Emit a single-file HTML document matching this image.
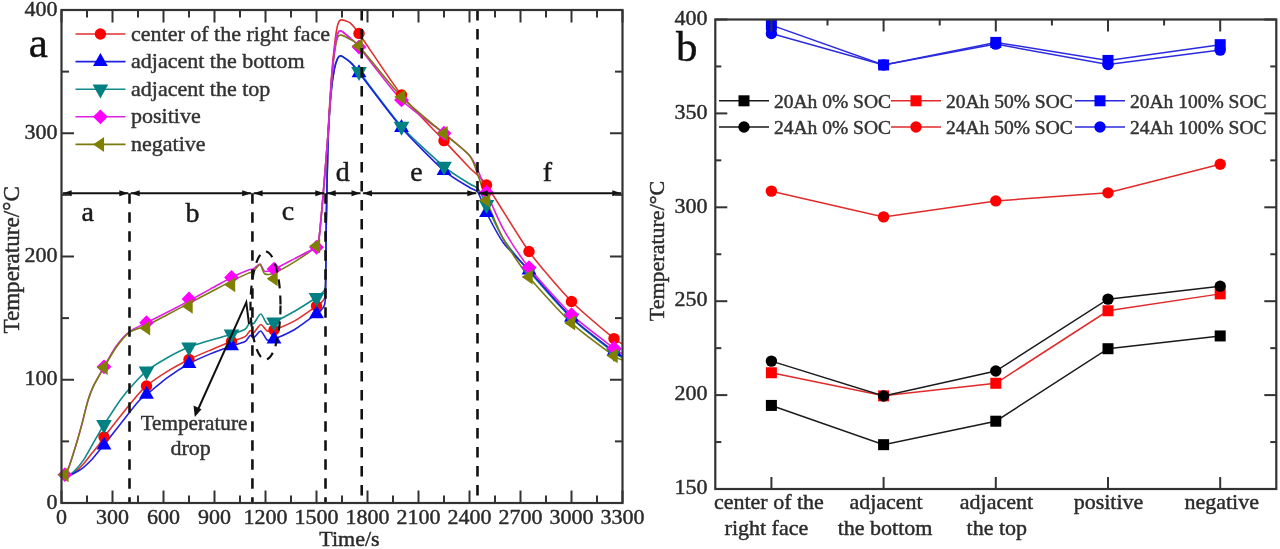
<!DOCTYPE html>
<html><head><meta charset="utf-8"><style>
html,body{margin:0;padding:0;background:#fff;width:1280px;height:549px;overflow:hidden;position:relative}
</style></head><body>
<svg width="1280" height="549" viewBox="0 0 1280 549" style="position:absolute;left:0;top:0;font-family:'Liberation Serif', serif;filter:blur(0.35px)">
<rect width="1280" height="549" fill="#fff"/>
<defs><clipPath id="clipL"><rect x="61.5" y="10" width="561" height="493"/></clipPath></defs>
<path clip-path="url(#clipL)" d="M66.26 475.52 C66.64 475.47 68.46 475.56 69.49 475.15 C70.52 474.73 73.45 473.26 75.1 471.94 C76.75 470.62 81.62 466.01 83.6 463.81 C85.58 461.61 90.3 455.34 92.1 453.08 C93.9 450.83 97.68 446.33 99.07 444.46 C100.46 442.59 99.99 442.25 104 437.06 C108.01 431.87 128.45 405.93 133.41 399.96 C138.37 394 142.49 389.28 146.5 385.91 C150.51 382.55 162.79 374.21 167.75 371.12 C172.71 368.03 184.04 361.86 189 359.41 C193.96 356.97 205.29 352.25 210.25 350.17 C215.21 348.09 227.43 343.12 231.5 341.54 C235.57 339.96 242.92 337.91 245.1 336.61 C247.28 335.32 249.21 330.88 250.2 330.45 C251.19 330.02 252.37 333.61 253.6 332.91 C254.83 332.22 259.15 324.75 260.74 324.53 C262.33 324.32 265.65 330.43 267.2 331.07 C268.75 331.7 270.75 331.18 274 329.96 C277.25 328.73 290.12 323.38 295.08 320.59 C300.04 317.8 313.41 308.2 316.5 306.05 C319.59 303.89 320.57 303.57 321.6 302.1 C322.63 300.64 324.82 300.95 325.34 293.48 C325.86 286 325.82 250.95 326.02 238.01 C326.22 225.07 326.78 195.06 327.04 182.55 C327.3 170.04 327.69 143.29 328.23 130.79 C328.77 118.28 330.86 85.68 331.63 75.32 C332.4 64.97 334.15 47.94 334.86 42.05 C335.57 36.15 337.02 27.38 337.75 24.79 C338.48 22.2 339.7 20.08 341.15 19.86 C342.6 19.64 348.08 21.36 350.16 22.94 C352.24 24.52 353.01 25.01 359 33.42 C364.99 41.83 391.58 82.53 401.5 95.04 C411.42 107.55 436.07 132.16 444 140.64 C451.93 149.13 464.54 162.58 469.5 167.76 C474.46 172.94 479.56 175.24 486.5 185.01 C493.44 194.79 519.08 237.98 529 251.57 C538.92 265.16 561.58 291.33 571.5 301.49 C581.42 311.64 608.05 333.62 614 338.58 C619.95 343.55 621.51 343.37 622.5 344.01" fill="none" stroke="#e03030" stroke-width="1.6" stroke-linejoin="round"/>
<path clip-path="url(#clipL)" d="M66.26 475.52 C66.64 475.44 68.46 475.5 69.49 474.9 C70.52 474.3 73.45 472.09 75.1 470.34 C76.75 468.58 81.62 462.81 83.6 459.86 C85.58 456.91 90.16 448.45 92.1 445.07 C94.04 441.69 98.87 433.27 100.26 430.9 C101.65 428.53 101.66 428.35 104 424.74 C106.34 421.13 116.95 404.64 120.32 399.96 C123.69 395.29 129.85 388.04 132.9 384.68 C135.95 381.32 142.43 374.29 146.5 371.12 C150.57 367.96 162.79 360.37 167.75 357.56 C172.71 354.76 184.04 349.1 189 347.09 C193.96 345.08 205.29 341.82 210.25 340.31 C215.21 338.8 227.43 335.44 231.5 334.15 C235.57 332.85 242.92 330.66 245.1 329.22 C247.28 327.78 249.21 322.47 250.2 321.82 C251.19 321.18 252.37 324.58 253.6 323.67 C254.83 322.77 259.15 314.01 260.74 314.06 C262.33 314.1 265.65 323.11 267.2 324.04 C268.75 324.98 270.75 323.59 274 322.07 C277.25 320.54 290.12 313.84 295.08 310.98 C300.04 308.12 313.41 299.58 316.5 297.54 C319.59 295.5 320.57 294.81 321.6 293.48 C322.63 292.14 324.82 292.55 325.34 286.08 C325.86 279.61 325.82 250.09 326.02 238.01 C326.22 225.93 326.76 194.77 327.04 182.55 C327.32 170.33 327.94 143.6 328.4 133.25 C328.86 122.9 330.26 101.29 330.95 93.81 C331.64 86.33 333.56 73.33 334.35 69.16 C335.14 64.99 336.96 59.58 337.75 58.07 C338.54 56.56 339.66 55.72 341.15 56.22 C342.64 56.72 348.42 60.58 350.5 62.38 C352.58 64.18 353.05 64.15 359 71.62 C364.95 79.1 391.58 115.4 401.5 126.47 C411.42 137.54 436.07 159.84 444 166.53 C451.93 173.21 465.53 181.19 469.5 183.78 C473.47 186.37 476.02 186.27 478 188.71 C479.98 191.16 483.52 198.84 486.5 204.74 C489.48 210.63 498.54 231.48 503.5 239.25 C508.46 247.01 521.07 262.09 529 271.29 C536.93 280.49 561.58 308.63 571.5 318.12 C581.42 327.62 608.05 348.03 614 352.63 C619.95 357.24 621.51 356.99 622.5 357.56" fill="none" stroke="#108a8a" stroke-width="1.6" stroke-linejoin="round"/>
<path clip-path="url(#clipL)" d="M66.26 475.52 C66.64 475.49 68.46 475.59 69.49 475.27 C70.52 474.95 73.45 473.74 75.1 472.8 C76.75 471.87 81.62 468.84 83.6 467.26 C85.58 465.68 90.3 461.17 92.1 459.25 C93.9 457.32 97.68 452.4 99.07 450.74 C100.46 449.09 99.6 450.62 104 445.07 C108.4 439.52 131.85 409.06 136.81 403.17 C141.77 397.27 142.89 397.56 146.5 394.54 C150.11 391.52 162.79 380.88 167.75 377.28 C172.71 373.69 184.04 366.46 189 363.73 C193.96 361 205.29 355.94 210.25 353.87 C215.21 351.8 227.43 347.42 231.5 345.98 C235.57 344.54 242.92 342.78 245.1 341.54 C247.28 340.31 249.21 335.81 250.2 335.38 C251.19 334.95 252.37 338.35 253.6 337.85 C254.83 337.34 259.15 330.82 260.74 331.07 C262.33 331.31 265.65 339.01 267.2 339.94 C268.75 340.87 270.75 340.33 274 339.08 C277.25 337.83 290.12 332.17 295.08 329.22 C300.04 326.27 313.41 316.11 316.5 313.81 C319.59 311.51 320.57 311.15 321.6 309.5 C322.63 307.84 324.82 307.98 325.34 299.64 C325.86 291.3 325.82 251.67 326.02 238.01 C326.22 224.35 326.76 194.77 327.04 182.55 C327.32 170.33 327.94 143.6 328.4 133.25 C328.86 122.9 330.26 101.29 330.95 93.81 C331.64 86.33 333.56 73.33 334.35 69.16 C335.14 64.99 336.96 59.62 337.75 58.07 C338.54 56.51 339.66 55.35 341.15 55.85 C342.64 56.35 348.42 60.4 350.5 62.38 C352.58 64.37 353.05 65.24 359 72.86 C364.95 80.48 391.58 116.29 401.5 127.7 C411.42 139.12 436.07 163.74 444 170.72 C451.93 177.69 465.53 184.95 469.5 187.48 C473.47 190.01 476.02 189.46 478 192.41 C479.98 195.36 483.52 206.85 486.5 212.75 C489.48 218.64 498.54 236.26 503.5 242.94 C508.46 249.63 521.07 261.36 529 270.06 C536.93 278.76 561.58 308.02 571.5 317.51 C581.42 327 608.05 346.87 614 351.4 C619.95 355.93 621.51 355.76 622.5 356.33" fill="none" stroke="#2020e0" stroke-width="1.6" stroke-linejoin="round"/>
<path clip-path="url(#clipL)" d="M64.9 474.65 C65.3 473.93 67.51 470.36 68.3 468.49 C69.09 466.62 70.7 461.72 71.7 458.63 C72.7 455.54 75.71 446.02 76.9 441.99 C78.09 437.97 80.63 428.91 81.9 424.12 C83.17 419.33 86.51 405.26 87.8 400.95 C89.09 396.64 91.68 390.01 92.95 387.14 C94.22 384.28 97.41 378.79 98.7 376.42 C99.99 374.05 101.99 370.3 104 366.81 C106.01 363.31 112.93 350.57 115.9 346.47 C118.88 342.37 125.93 334.46 129.5 331.68 C133.07 328.91 142.04 324.99 146.5 322.69 C150.96 320.38 162.79 314.51 167.75 311.96 C172.71 309.42 184.04 303.53 189 300.87 C193.96 298.21 205.29 291.89 210.25 289.16 C215.21 286.43 227.04 279.68 231.5 277.45 C235.96 275.22 245.92 271.06 248.5 270.06 C251.08 269.05 252.25 269.52 253.6 268.82 C254.95 268.13 258.77 263.85 260.06 264.14 C261.35 264.43 263.02 270.69 264.65 271.29 C266.28 271.89 270.43 270.83 274 269.32 C277.57 267.81 290.29 260.92 295.25 258.35 C300.21 255.77 313.78 249.05 316.5 247.26 C319.22 245.46 317.77 249.05 318.54 242.94 C319.31 236.83 322 207.96 323.13 194.88 C324.26 181.79 327.24 144.45 328.23 130.79 C329.22 117.12 330.86 87.57 331.63 77.79 C332.4 68.01 334.15 52.15 334.86 46.98 C335.57 41.8 337.02 35.29 337.75 33.42 C338.48 31.55 339.66 30.38 341.15 30.95 C342.64 31.53 348.42 36.48 350.5 38.35 C352.58 40.22 353.05 39.79 359 46.98 C364.95 54.16 391.58 89.91 401.5 99.97 C411.42 110.04 436.07 126.78 444 133.25 C451.93 139.72 465.53 151.12 469.5 155.44 C473.47 159.75 476.02 165.91 478 170.23 C479.98 174.54 483.52 185.51 486.5 192.41 C489.48 199.31 498.54 220.61 503.5 229.38 C508.46 238.16 521.07 257.64 529 267.59 C536.93 277.54 561.58 305.27 571.5 314.67 C581.42 324.08 608.05 343.63 614 348.2 C619.95 352.77 621.51 353.21 622.5 353.87" fill="none" stroke="#e020e0" stroke-width="1.6" stroke-linejoin="round"/>
<path clip-path="url(#clipL)" d="M64.9 474.65 C65.3 473.93 67.51 470.36 68.3 468.49 C69.09 466.62 70.7 461.72 71.7 458.63 C72.7 455.54 75.71 446.02 76.9 441.99 C78.09 437.97 80.63 428.91 81.9 424.12 C83.17 419.33 86.51 405.26 87.8 400.95 C89.09 396.64 91.68 390.01 92.95 387.14 C94.22 384.28 97.41 378.72 98.7 376.42 C99.99 374.12 101.99 370.78 104 367.43 C106.01 364.07 112.93 351.8 115.9 347.71 C118.88 343.61 125.93 334.89 129.5 332.3 C133.07 329.71 142.04 327.6 146.5 325.52 C150.96 323.44 162.79 317.02 167.75 314.43 C172.71 311.84 184.04 305.92 189 303.34 C193.96 300.75 205.29 294.83 210.25 292.24 C215.21 289.65 227.04 283.38 231.5 281.15 C235.96 278.92 245.92 274.29 248.5 273.14 C251.08 271.99 252.25 272.3 253.6 271.29 C254.95 270.28 258.77 264.22 260.06 264.51 C261.35 264.8 263.02 272.75 264.65 273.75 C266.28 274.76 270.43 274.58 274 273.14 C277.57 271.7 290.29 264.52 295.25 261.43 C300.21 258.34 313.78 248.8 316.5 246.64 C319.22 244.48 317.77 248.98 318.54 242.94 C319.31 236.9 322 207.96 323.13 194.88 C324.26 181.79 327.24 144.16 328.23 130.79 C329.22 117.41 330.86 89.6 331.63 80.25 C332.4 70.91 334.15 55.71 334.86 50.67 C335.57 45.64 337.02 38.93 337.75 37.12 C338.48 35.3 339.66 34.86 341.15 35.14 C342.64 35.43 348.42 38.31 350.5 39.58 C352.58 40.85 353.05 39.3 359 45.99 C364.95 52.68 391.58 86.67 401.5 96.89 C411.42 107.11 436.07 126.79 444 133.62 C451.93 140.45 465.53 150.59 469.5 155.44 C473.47 160.28 476.02 169.92 478 175.15 C479.98 180.39 483.52 192.82 486.5 200.3 C489.48 207.78 498.54 230.3 503.5 239.25 C508.46 248.19 521.07 267.18 529 276.96 C536.93 286.74 561.58 313.85 571.5 323.06 C581.42 332.26 608.05 351.53 614 355.84 C619.95 360.15 621.51 359.54 622.5 360.03" fill="none" stroke="#7a7a10" stroke-width="1.6" stroke-linejoin="round"/>
<path clip-path="url(#clipL)" d="M295.25 258.35 C297.73 257.05 313.78 249.05 316.5 247.26 C319.22 245.46 317.77 249.05 318.54 242.94 C319.31 236.83 322 207.96 323.13 194.88 C324.26 181.79 327.24 144.45 328.23 130.79 C329.22 117.12 330.86 87.57 331.63 77.79 C332.4 68.01 334.15 52.15 334.86 46.98 C335.57 41.8 337.02 35.29 337.75 33.42 C338.48 31.55 339.66 30.38 341.15 30.95 C342.64 31.53 349.41 37.48 350.5 38.35" fill="none" stroke="#e020e0" stroke-width="1.6" stroke-linejoin="round"/>
<circle cx="104" cy="437.06" r="5.7" fill="#ff0000"/>
<circle cx="146.5" cy="385.91" r="5.7" fill="#ff0000"/>
<circle cx="189" cy="359.41" r="5.7" fill="#ff0000"/>
<circle cx="231.5" cy="341.54" r="5.7" fill="#ff0000"/>
<circle cx="274" cy="329.96" r="5.7" fill="#ff0000"/>
<circle cx="316.5" cy="306.05" r="5.7" fill="#ff0000"/>
<circle cx="359" cy="33.42" r="5.7" fill="#ff0000"/>
<circle cx="401.5" cy="95.04" r="5.7" fill="#ff0000"/>
<circle cx="444" cy="140.64" r="5.7" fill="#ff0000"/>
<circle cx="486.5" cy="185.01" r="5.7" fill="#ff0000"/>
<circle cx="529" cy="251.57" r="5.7" fill="#ff0000"/>
<circle cx="571.5" cy="301.49" r="5.7" fill="#ff0000"/>
<circle cx="614" cy="338.58" r="5.7" fill="#ff0000"/>
<path d="M104 436.41 L111.4 449.41 L96.6 449.41 Z" fill="#0000ff"/>
<path d="M146.5 385.87 L153.9 398.87 L139.1 398.87 Z" fill="#0000ff"/>
<path d="M189 355.06 L196.4 368.06 L181.6 368.06 Z" fill="#0000ff"/>
<path d="M231.5 337.31 L238.9 350.31 L224.1 350.31 Z" fill="#0000ff"/>
<path d="M274 330.41 L281.4 343.41 L266.6 343.41 Z" fill="#0000ff"/>
<path d="M316.5 305.14 L323.9 318.14 L309.1 318.14 Z" fill="#0000ff"/>
<path d="M359 64.19 L366.4 77.19 L351.6 77.19 Z" fill="#0000ff"/>
<path d="M401.5 119.04 L408.9 132.04 L394.1 132.04 Z" fill="#0000ff"/>
<path d="M444 162.05 L451.4 175.05 L436.6 175.05 Z" fill="#0000ff"/>
<path d="M486.5 204.08 L493.9 217.08 L479.1 217.08 Z" fill="#0000ff"/>
<path d="M529 261.39 L536.4 274.39 L521.6 274.39 Z" fill="#0000ff"/>
<path d="M571.5 308.84 L578.9 321.84 L564.1 321.84 Z" fill="#0000ff"/>
<path d="M614 342.74 L621.4 355.74 L606.6 355.74 Z" fill="#0000ff"/>
<path d="M104 434.07 L111.8 420.07 L96.2 420.07 Z" fill="#008080"/>
<path d="M146.5 380.46 L154.3 366.46 L138.7 366.46 Z" fill="#008080"/>
<path d="M189 356.42 L196.8 342.42 L181.2 342.42 Z" fill="#008080"/>
<path d="M231.5 343.48 L239.3 329.48 L223.7 329.48 Z" fill="#008080"/>
<path d="M274 331.4 L281.8 317.4 L266.2 317.4 Z" fill="#008080"/>
<path d="M316.5 306.88 L324.3 292.88 L308.7 292.88 Z" fill="#008080"/>
<path d="M359 80.96 L366.8 66.96 L351.2 66.96 Z" fill="#008080"/>
<path d="M401.5 135.8 L409.3 121.8 L393.7 121.8 Z" fill="#008080"/>
<path d="M444 175.86 L451.8 161.86 L436.2 161.86 Z" fill="#008080"/>
<path d="M486.5 214.07 L494.3 200.07 L478.7 200.07 Z" fill="#008080"/>
<path d="M529 280.62 L536.8 266.62 L521.2 266.62 Z" fill="#008080"/>
<path d="M571.5 327.46 L579.3 313.46 L563.7 313.46 Z" fill="#008080"/>
<path d="M614 361.97 L621.8 347.97 L606.2 347.97 Z" fill="#008080"/>
<path d="M64.9 467.25 L72.3 474.65 L64.9 482.05 L57.5 474.65 Z" fill="#ff00ff"/>
<path d="M104 359.41 L111.4 366.81 L104 374.21 L96.6 366.81 Z" fill="#ff00ff"/>
<path d="M146.5 315.29 L153.9 322.69 L146.5 330.09 L139.1 322.69 Z" fill="#ff00ff"/>
<path d="M189 291.62 L196.4 299.02 L189 306.42 L181.6 299.02 Z" fill="#ff00ff"/>
<path d="M231.5 270.05 L238.9 277.45 L231.5 284.85 L224.1 277.45 Z" fill="#ff00ff"/>
<path d="M274 261.67 L281.4 269.07 L274 276.47 L266.6 269.07 Z" fill="#ff00ff"/>
<path d="M316.5 239.86 L323.9 247.26 L316.5 254.66 L309.1 247.26 Z" fill="#ff00ff"/>
<path d="M359 39.58 L366.4 46.98 L359 54.38 L351.6 46.98 Z" fill="#ff00ff"/>
<path d="M401.5 92.57 L408.9 99.97 L401.5 107.37 L394.1 99.97 Z" fill="#ff00ff"/>
<path d="M444 125.85 L451.4 133.25 L444 140.65 L436.6 133.25 Z" fill="#ff00ff"/>
<path d="M486.5 185.01 L493.9 192.41 L486.5 199.81 L479.1 192.41 Z" fill="#ff00ff"/>
<path d="M529 260.19 L536.4 267.59 L529 274.99 L521.6 267.59 Z" fill="#ff00ff"/>
<path d="M571.5 307.27 L578.9 314.67 L571.5 322.07 L564.1 314.67 Z" fill="#ff00ff"/>
<path d="M614 340.8 L621.4 348.2 L614 355.6 L606.6 348.2 Z" fill="#ff00ff"/>
<path d="M57.57 474.65 L68.57 467.15 L68.57 482.15 Z" fill="#808000"/>
<path d="M96.67 367.43 L107.67 359.93 L107.67 374.93 Z" fill="#808000"/>
<path d="M139.17 327.99 L150.17 320.49 L150.17 335.49 Z" fill="#808000"/>
<path d="M181.67 306.29 L192.67 298.79 L192.67 313.79 Z" fill="#808000"/>
<path d="M224.17 284.85 L235.17 277.35 L235.17 292.35 Z" fill="#808000"/>
<path d="M266.67 278.69 L277.67 271.19 L277.67 286.19 Z" fill="#808000"/>
<path d="M309.17 246.02 L320.17 238.52 L320.17 253.52 Z" fill="#808000"/>
<path d="M351.67 45.99 L362.67 38.49 L362.67 53.49 Z" fill="#808000"/>
<path d="M394.17 96.89 L405.17 89.39 L405.17 104.39 Z" fill="#808000"/>
<path d="M436.67 133.62 L447.67 126.12 L447.67 141.12 Z" fill="#808000"/>
<path d="M479.17 200.3 L490.17 192.8 L490.17 207.8 Z" fill="#808000"/>
<path d="M521.67 276.96 L532.67 269.46 L532.67 284.46 Z" fill="#808000"/>
<path d="M564.17 323.06 L575.17 315.56 L575.17 330.56 Z" fill="#808000"/>
<path d="M606.67 355.84 L617.67 348.34 L617.67 363.34 Z" fill="#808000"/>
<line x1="129.5" y1="193.2" x2="129.5" y2="503" stroke="#111" stroke-width="2.6" stroke-dasharray="10.5 8.5"/>
<line x1="252.41" y1="193.2" x2="252.41" y2="503" stroke="#111" stroke-width="2.6" stroke-dasharray="10.5 8.5"/>
<line x1="325.51" y1="193.2" x2="325.51" y2="503" stroke="#111" stroke-width="2.6" stroke-dasharray="10.5 8.5"/>
<line x1="361.72" y1="10" x2="361.72" y2="503" stroke="#111" stroke-width="2.6" stroke-dasharray="10.5 8.5"/>
<line x1="477.49" y1="10" x2="477.49" y2="503" stroke="#111" stroke-width="2.6" stroke-dasharray="10.5 8.5"/>
<ellipse cx="265.5" cy="305.5" rx="15" ry="54" fill="none" stroke="#111" stroke-width="2.2" stroke-dasharray="9 7"/>
<line x1="62.7" y1="193.2" x2="128.3" y2="193.2" stroke="#111" stroke-width="2"/>
<path d="M62.7 193.2 L71.7 190.2 L71.7 196.2 Z" fill="#111"/>
<path d="M128.3 193.2 L119.3 190.2 L119.3 196.2 Z" fill="#111"/>
<line x1="130.7" y1="193.2" x2="251.21" y2="193.2" stroke="#111" stroke-width="2"/>
<path d="M130.7 193.2 L139.7 190.2 L139.7 196.2 Z" fill="#111"/>
<path d="M251.21 193.2 L242.21 190.2 L242.21 196.2 Z" fill="#111"/>
<line x1="253.61" y1="193.2" x2="324.31" y2="193.2" stroke="#111" stroke-width="2"/>
<path d="M253.61 193.2 L262.61 190.2 L262.61 196.2 Z" fill="#111"/>
<path d="M324.31 193.2 L315.31 190.2 L315.31 196.2 Z" fill="#111"/>
<line x1="326.71" y1="193.2" x2="360.52" y2="193.2" stroke="#111" stroke-width="2"/>
<path d="M326.71 193.2 L335.71 190.2 L335.71 196.2 Z" fill="#111"/>
<path d="M360.52 193.2 L351.52 190.2 L351.52 196.2 Z" fill="#111"/>
<line x1="362.92" y1="193.2" x2="476.29" y2="193.2" stroke="#111" stroke-width="2"/>
<path d="M362.92 193.2 L371.92 190.2 L371.92 196.2 Z" fill="#111"/>
<path d="M476.29 193.2 L467.29 190.2 L467.29 196.2 Z" fill="#111"/>
<line x1="478.69" y1="193.2" x2="621.3" y2="193.2" stroke="#111" stroke-width="2"/>
<path d="M478.69 193.2 L487.69 190.2 L487.69 196.2 Z" fill="#111"/>
<path d="M621.3 193.2 L612.3 190.2 L612.3 196.2 Z" fill="#111"/>
<text x="87.8" y="220.5" font-size="28" text-anchor="middle" fill="#1a1a1a" stroke="#1a1a1a" stroke-width="0.45" >a</text>
<text x="192.6" y="221.8" font-size="28" text-anchor="middle" fill="#1a1a1a" stroke="#1a1a1a" stroke-width="0.45" >b</text>
<text x="288" y="220.2" font-size="28" text-anchor="middle" fill="#1a1a1a" stroke="#1a1a1a" stroke-width="0.45" >c</text>
<text x="342.8" y="180.8" font-size="28" text-anchor="middle" fill="#1a1a1a" stroke="#1a1a1a" stroke-width="0.45" >d</text>
<text x="416.5" y="180.8" font-size="28" text-anchor="middle" fill="#1a1a1a" stroke="#1a1a1a" stroke-width="0.45" >e</text>
<text x="547.5" y="180.8" font-size="28" text-anchor="middle" fill="#1a1a1a" stroke="#1a1a1a" stroke-width="0.45" >f</text>
<path d="M196 414 L246.3 302.4 L249 324" fill="none" stroke="#111" stroke-width="2"/>
<path d="M194.8 417 L193.5 405.5 L201.5 409.2 Z" fill="#111"/>
<text x="194" y="430" font-size="21.2" text-anchor="middle" fill="#333" stroke="#333" stroke-width="0.45" >Temperature</text>
<text x="190.6" y="455.4" font-size="22" text-anchor="middle" fill="#333" stroke="#333" stroke-width="0.45" >drop</text>
<rect x="61.5" y="10" width="561" height="493" fill="none" stroke="#333" stroke-width="2.2"/>
<line x1="61.5" y1="503" x2="61.5" y2="490.5" stroke="#333" stroke-width="2"/>
<line x1="61.5" y1="10" x2="61.5" y2="22.5" stroke="#333" stroke-width="2"/>
<text x="61.5" y="523.5" font-size="22" text-anchor="middle" fill="#2b2b2b" stroke="#2b2b2b" stroke-width="0.45" >0</text>
<line x1="87" y1="503" x2="87" y2="495.5" stroke="#333" stroke-width="2"/>
<line x1="87" y1="10" x2="87" y2="17.5" stroke="#333" stroke-width="2"/>
<line x1="112.5" y1="503" x2="112.5" y2="490.5" stroke="#333" stroke-width="2"/>
<line x1="112.5" y1="10" x2="112.5" y2="22.5" stroke="#333" stroke-width="2"/>
<text x="112.5" y="523.5" font-size="22" text-anchor="middle" fill="#2b2b2b" stroke="#2b2b2b" stroke-width="0.45" >300</text>
<line x1="138" y1="503" x2="138" y2="495.5" stroke="#333" stroke-width="2"/>
<line x1="138" y1="10" x2="138" y2="17.5" stroke="#333" stroke-width="2"/>
<line x1="163.5" y1="503" x2="163.5" y2="490.5" stroke="#333" stroke-width="2"/>
<line x1="163.5" y1="10" x2="163.5" y2="22.5" stroke="#333" stroke-width="2"/>
<text x="163.5" y="523.5" font-size="22" text-anchor="middle" fill="#2b2b2b" stroke="#2b2b2b" stroke-width="0.45" >600</text>
<line x1="189" y1="503" x2="189" y2="495.5" stroke="#333" stroke-width="2"/>
<line x1="189" y1="10" x2="189" y2="17.5" stroke="#333" stroke-width="2"/>
<line x1="214.5" y1="503" x2="214.5" y2="490.5" stroke="#333" stroke-width="2"/>
<line x1="214.5" y1="10" x2="214.5" y2="22.5" stroke="#333" stroke-width="2"/>
<text x="214.5" y="523.5" font-size="22" text-anchor="middle" fill="#2b2b2b" stroke="#2b2b2b" stroke-width="0.45" >900</text>
<line x1="240" y1="503" x2="240" y2="495.5" stroke="#333" stroke-width="2"/>
<line x1="240" y1="10" x2="240" y2="17.5" stroke="#333" stroke-width="2"/>
<line x1="265.5" y1="503" x2="265.5" y2="490.5" stroke="#333" stroke-width="2"/>
<line x1="265.5" y1="10" x2="265.5" y2="22.5" stroke="#333" stroke-width="2"/>
<text x="265.5" y="523.5" font-size="22" text-anchor="middle" fill="#2b2b2b" stroke="#2b2b2b" stroke-width="0.45" >1200</text>
<line x1="291" y1="503" x2="291" y2="495.5" stroke="#333" stroke-width="2"/>
<line x1="291" y1="10" x2="291" y2="17.5" stroke="#333" stroke-width="2"/>
<line x1="316.5" y1="503" x2="316.5" y2="490.5" stroke="#333" stroke-width="2"/>
<line x1="316.5" y1="10" x2="316.5" y2="22.5" stroke="#333" stroke-width="2"/>
<text x="316.5" y="523.5" font-size="22" text-anchor="middle" fill="#2b2b2b" stroke="#2b2b2b" stroke-width="0.45" >1500</text>
<line x1="342" y1="503" x2="342" y2="495.5" stroke="#333" stroke-width="2"/>
<line x1="342" y1="10" x2="342" y2="17.5" stroke="#333" stroke-width="2"/>
<line x1="367.5" y1="503" x2="367.5" y2="490.5" stroke="#333" stroke-width="2"/>
<line x1="367.5" y1="10" x2="367.5" y2="22.5" stroke="#333" stroke-width="2"/>
<text x="367.5" y="523.5" font-size="22" text-anchor="middle" fill="#2b2b2b" stroke="#2b2b2b" stroke-width="0.45" >1800</text>
<line x1="393" y1="503" x2="393" y2="495.5" stroke="#333" stroke-width="2"/>
<line x1="393" y1="10" x2="393" y2="17.5" stroke="#333" stroke-width="2"/>
<line x1="418.5" y1="503" x2="418.5" y2="490.5" stroke="#333" stroke-width="2"/>
<line x1="418.5" y1="10" x2="418.5" y2="22.5" stroke="#333" stroke-width="2"/>
<text x="418.5" y="523.5" font-size="22" text-anchor="middle" fill="#2b2b2b" stroke="#2b2b2b" stroke-width="0.45" >2100</text>
<line x1="444" y1="503" x2="444" y2="495.5" stroke="#333" stroke-width="2"/>
<line x1="444" y1="10" x2="444" y2="17.5" stroke="#333" stroke-width="2"/>
<line x1="469.5" y1="503" x2="469.5" y2="490.5" stroke="#333" stroke-width="2"/>
<line x1="469.5" y1="10" x2="469.5" y2="22.5" stroke="#333" stroke-width="2"/>
<text x="469.5" y="523.5" font-size="22" text-anchor="middle" fill="#2b2b2b" stroke="#2b2b2b" stroke-width="0.45" >2400</text>
<line x1="495" y1="503" x2="495" y2="495.5" stroke="#333" stroke-width="2"/>
<line x1="495" y1="10" x2="495" y2="17.5" stroke="#333" stroke-width="2"/>
<line x1="520.5" y1="503" x2="520.5" y2="490.5" stroke="#333" stroke-width="2"/>
<line x1="520.5" y1="10" x2="520.5" y2="22.5" stroke="#333" stroke-width="2"/>
<text x="520.5" y="523.5" font-size="22" text-anchor="middle" fill="#2b2b2b" stroke="#2b2b2b" stroke-width="0.45" >2700</text>
<line x1="546" y1="503" x2="546" y2="495.5" stroke="#333" stroke-width="2"/>
<line x1="546" y1="10" x2="546" y2="17.5" stroke="#333" stroke-width="2"/>
<line x1="571.5" y1="503" x2="571.5" y2="490.5" stroke="#333" stroke-width="2"/>
<line x1="571.5" y1="10" x2="571.5" y2="22.5" stroke="#333" stroke-width="2"/>
<text x="571.5" y="523.5" font-size="22" text-anchor="middle" fill="#2b2b2b" stroke="#2b2b2b" stroke-width="0.45" >3000</text>
<line x1="597" y1="503" x2="597" y2="495.5" stroke="#333" stroke-width="2"/>
<line x1="597" y1="10" x2="597" y2="17.5" stroke="#333" stroke-width="2"/>
<line x1="622.5" y1="503" x2="622.5" y2="490.5" stroke="#333" stroke-width="2"/>
<line x1="622.5" y1="10" x2="622.5" y2="22.5" stroke="#333" stroke-width="2"/>
<text x="622.5" y="523.5" font-size="22" text-anchor="middle" fill="#2b2b2b" stroke="#2b2b2b" stroke-width="0.45" >3300</text>
<line x1="61.5" y1="503" x2="74" y2="503" stroke="#333" stroke-width="2"/>
<line x1="622.5" y1="503" x2="610" y2="503" stroke="#333" stroke-width="2"/>
<text x="57.5" y="508.5" font-size="22" text-anchor="end" fill="#2b2b2b" stroke="#2b2b2b" stroke-width="0.45" >0</text>
<line x1="61.5" y1="441.38" x2="69" y2="441.38" stroke="#333" stroke-width="2"/>
<line x1="622.5" y1="441.38" x2="615" y2="441.38" stroke="#333" stroke-width="2"/>
<line x1="61.5" y1="379.75" x2="74" y2="379.75" stroke="#333" stroke-width="2"/>
<line x1="622.5" y1="379.75" x2="610" y2="379.75" stroke="#333" stroke-width="2"/>
<text x="57.5" y="385.25" font-size="22" text-anchor="end" fill="#2b2b2b" stroke="#2b2b2b" stroke-width="0.45" >100</text>
<line x1="61.5" y1="318.12" x2="69" y2="318.12" stroke="#333" stroke-width="2"/>
<line x1="622.5" y1="318.12" x2="615" y2="318.12" stroke="#333" stroke-width="2"/>
<line x1="61.5" y1="256.5" x2="74" y2="256.5" stroke="#333" stroke-width="2"/>
<line x1="622.5" y1="256.5" x2="610" y2="256.5" stroke="#333" stroke-width="2"/>
<text x="57.5" y="262" font-size="22" text-anchor="end" fill="#2b2b2b" stroke="#2b2b2b" stroke-width="0.45" >200</text>
<line x1="61.5" y1="194.88" x2="69" y2="194.88" stroke="#333" stroke-width="2"/>
<line x1="622.5" y1="194.88" x2="615" y2="194.88" stroke="#333" stroke-width="2"/>
<line x1="61.5" y1="133.25" x2="74" y2="133.25" stroke="#333" stroke-width="2"/>
<line x1="622.5" y1="133.25" x2="610" y2="133.25" stroke="#333" stroke-width="2"/>
<text x="57.5" y="138.75" font-size="22" text-anchor="end" fill="#2b2b2b" stroke="#2b2b2b" stroke-width="0.45" >300</text>
<line x1="61.5" y1="71.62" x2="69" y2="71.62" stroke="#333" stroke-width="2"/>
<line x1="622.5" y1="71.62" x2="615" y2="71.62" stroke="#333" stroke-width="2"/>
<line x1="61.5" y1="10" x2="74" y2="10" stroke="#333" stroke-width="2"/>
<line x1="622.5" y1="10" x2="610" y2="10" stroke="#333" stroke-width="2"/>
<text x="57.5" y="15.5" font-size="22" text-anchor="end" fill="#2b2b2b" stroke="#2b2b2b" stroke-width="0.45" >400</text>
<text x="349.5" y="545.8" font-size="22" text-anchor="middle" fill="#2b2b2b" stroke="#2b2b2b" stroke-width="0.45" >Time/s</text>
<text x="0" y="0" font-size="23.1" text-anchor="middle" fill="#2b2b2b" stroke="#2b2b2b" stroke-width="0.45" transform="translate(19.4 259.9) rotate(-90)">Temperature/°C</text>
<text x="38.2" y="56.5" font-size="43" text-anchor="middle" fill="#111" stroke="#111" stroke-width="0.45" >a</text>
<line x1="75.5" y1="34" x2="125.5" y2="34" stroke="#e03030" stroke-width="1.6"/>
<circle cx="100.4" cy="34" r="5.7" fill="#ff0000"/>
<text x="131" y="40.6" font-size="22" text-anchor="start" fill="#333" stroke="#333" stroke-width="0.45" >center of the right face</text>
<line x1="75.5" y1="61.6" x2="125.5" y2="61.6" stroke="#2020e0" stroke-width="1.6"/>
<path d="M100.4 52.93 L107.8 65.93 L93 65.93 Z" fill="#0000ff"/>
<text x="131" y="68.2" font-size="22" text-anchor="start" fill="#333" stroke="#333" stroke-width="0.45" >adjacent the bottom</text>
<line x1="75.5" y1="89.2" x2="125.5" y2="89.2" stroke="#108a8a" stroke-width="1.6"/>
<path d="M100.4 98.53 L108.2 84.53 L92.6 84.53 Z" fill="#008080"/>
<text x="131" y="95.8" font-size="22" text-anchor="start" fill="#333" stroke="#333" stroke-width="0.45" >adjacent the top</text>
<line x1="75.5" y1="116.8" x2="125.5" y2="116.8" stroke="#e020e0" stroke-width="1.6"/>
<path d="M100.4 109.4 L107.8 116.8 L100.4 124.2 L93 116.8 Z" fill="#ff00ff"/>
<text x="131" y="123.4" font-size="22" text-anchor="start" fill="#333" stroke="#333" stroke-width="0.45" >positive</text>
<line x1="75.5" y1="144.4" x2="125.5" y2="144.4" stroke="#7a7a10" stroke-width="1.6"/>
<path d="M93.07 144.4 L104.07 136.9 L104.07 151.9 Z" fill="#808000"/>
<text x="131" y="151" font-size="22" text-anchor="start" fill="#333" stroke="#333" stroke-width="0.45" >negative</text>
<polyline points="771.4,405.43 883.6,444.68 995.8,421.2 1108,348.71 1220.2,335.94" fill="none" stroke="#1a1a1a" stroke-width="1.5"/>
<rect x="765.9" y="399.93" width="11" height="11" fill="#000000"/>
<rect x="878.1" y="439.18" width="11" height="11" fill="#000000"/>
<rect x="990.3" y="415.7" width="11" height="11" fill="#000000"/>
<rect x="1102.5" y="343.21" width="11" height="11" fill="#000000"/>
<rect x="1214.7" y="330.44" width="11" height="11" fill="#000000"/>
<polyline points="771.4,372.75 883.6,395.85 995.8,383.27 1108,310.78 1220.2,293.88" fill="none" stroke="#e02a2a" stroke-width="1.5"/>
<rect x="765.9" y="367.25" width="11" height="11" fill="#ff0000"/>
<rect x="878.1" y="390.35" width="11" height="11" fill="#ff0000"/>
<rect x="990.3" y="377.77" width="11" height="11" fill="#ff0000"/>
<rect x="1102.5" y="305.28" width="11" height="11" fill="#ff0000"/>
<rect x="1214.7" y="288.38" width="11" height="11" fill="#ff0000"/>
<polyline points="771.4,25.13 883.6,64.95 995.8,42.41 1108,60.44 1220.2,44.67" fill="none" stroke="#2a2ae0" stroke-width="1.5"/>
<rect x="765.9" y="19.63" width="11" height="11" fill="#0000ff"/>
<rect x="878.1" y="59.45" width="11" height="11" fill="#0000ff"/>
<rect x="990.3" y="36.91" width="11" height="11" fill="#0000ff"/>
<rect x="1102.5" y="54.94" width="11" height="11" fill="#0000ff"/>
<rect x="1214.7" y="39.17" width="11" height="11" fill="#0000ff"/>
<polyline points="771.4,361.11 883.6,396.04 995.8,371.06 1108,299.13 1220.2,286.18" fill="none" stroke="#1a1a1a" stroke-width="1.5"/>
<circle cx="771.4" cy="361.11" r="5.7" fill="#000000"/>
<circle cx="883.6" cy="396.04" r="5.7" fill="#000000"/>
<circle cx="995.8" cy="371.06" r="5.7" fill="#000000"/>
<circle cx="1108" cy="299.13" r="5.7" fill="#000000"/>
<circle cx="1220.2" cy="286.18" r="5.7" fill="#000000"/>
<polyline points="771.4,191.15 883.6,216.88 995.8,200.91 1108,192.84 1220.2,164.29" fill="none" stroke="#e02a2a" stroke-width="1.5"/>
<circle cx="771.4" cy="191.15" r="5.7" fill="#ff0000"/>
<circle cx="883.6" cy="216.88" r="5.7" fill="#ff0000"/>
<circle cx="995.8" cy="200.91" r="5.7" fill="#ff0000"/>
<circle cx="1108" cy="192.84" r="5.7" fill="#ff0000"/>
<circle cx="1220.2" cy="164.29" r="5.7" fill="#ff0000"/>
<polyline points="771.4,33.58 883.6,64.95 995.8,44.1 1108,64.57 1220.2,50.11" fill="none" stroke="#2a2ae0" stroke-width="1.5"/>
<circle cx="771.4" cy="33.58" r="5.7" fill="#0000ff"/>
<circle cx="883.6" cy="64.95" r="5.7" fill="#0000ff"/>
<circle cx="995.8" cy="44.1" r="5.7" fill="#0000ff"/>
<circle cx="1108" cy="64.57" r="5.7" fill="#0000ff"/>
<circle cx="1220.2" cy="50.11" r="5.7" fill="#0000ff"/>
<rect x="715.3" y="19.5" width="561" height="469.5" fill="none" stroke="#333" stroke-width="2.2"/>
<line x1="715.3" y1="489" x2="727.3" y2="489" stroke="#333" stroke-width="2"/>
<line x1="1276.3" y1="489" x2="1264.3" y2="489" stroke="#333" stroke-width="2"/>
<text x="707.5" y="494.2" font-size="22" text-anchor="end" fill="#2b2b2b" stroke="#2b2b2b" stroke-width="0.45" >150</text>
<line x1="715.3" y1="442.05" x2="721.3" y2="442.05" stroke="#333" stroke-width="2"/>
<line x1="1276.3" y1="442.05" x2="1270.3" y2="442.05" stroke="#333" stroke-width="2"/>
<line x1="715.3" y1="395.1" x2="727.3" y2="395.1" stroke="#333" stroke-width="2"/>
<line x1="1276.3" y1="395.1" x2="1264.3" y2="395.1" stroke="#333" stroke-width="2"/>
<text x="707.5" y="400.3" font-size="22" text-anchor="end" fill="#2b2b2b" stroke="#2b2b2b" stroke-width="0.45" >200</text>
<line x1="715.3" y1="348.15" x2="721.3" y2="348.15" stroke="#333" stroke-width="2"/>
<line x1="1276.3" y1="348.15" x2="1270.3" y2="348.15" stroke="#333" stroke-width="2"/>
<line x1="715.3" y1="301.2" x2="727.3" y2="301.2" stroke="#333" stroke-width="2"/>
<line x1="1276.3" y1="301.2" x2="1264.3" y2="301.2" stroke="#333" stroke-width="2"/>
<text x="707.5" y="306.4" font-size="22" text-anchor="end" fill="#2b2b2b" stroke="#2b2b2b" stroke-width="0.45" >250</text>
<line x1="715.3" y1="254.25" x2="721.3" y2="254.25" stroke="#333" stroke-width="2"/>
<line x1="1276.3" y1="254.25" x2="1270.3" y2="254.25" stroke="#333" stroke-width="2"/>
<line x1="715.3" y1="207.3" x2="727.3" y2="207.3" stroke="#333" stroke-width="2"/>
<line x1="1276.3" y1="207.3" x2="1264.3" y2="207.3" stroke="#333" stroke-width="2"/>
<text x="707.5" y="212.5" font-size="22" text-anchor="end" fill="#2b2b2b" stroke="#2b2b2b" stroke-width="0.45" >300</text>
<line x1="715.3" y1="160.35" x2="721.3" y2="160.35" stroke="#333" stroke-width="2"/>
<line x1="1276.3" y1="160.35" x2="1270.3" y2="160.35" stroke="#333" stroke-width="2"/>
<line x1="715.3" y1="113.4" x2="727.3" y2="113.4" stroke="#333" stroke-width="2"/>
<line x1="1276.3" y1="113.4" x2="1264.3" y2="113.4" stroke="#333" stroke-width="2"/>
<text x="707.5" y="118.6" font-size="22" text-anchor="end" fill="#2b2b2b" stroke="#2b2b2b" stroke-width="0.45" >350</text>
<line x1="715.3" y1="66.45" x2="721.3" y2="66.45" stroke="#333" stroke-width="2"/>
<line x1="1276.3" y1="66.45" x2="1270.3" y2="66.45" stroke="#333" stroke-width="2"/>
<line x1="715.3" y1="19.5" x2="727.3" y2="19.5" stroke="#333" stroke-width="2"/>
<line x1="1276.3" y1="19.5" x2="1264.3" y2="19.5" stroke="#333" stroke-width="2"/>
<text x="707.5" y="24.7" font-size="22" text-anchor="end" fill="#2b2b2b" stroke="#2b2b2b" stroke-width="0.45" >400</text>
<line x1="771.4" y1="489" x2="771.4" y2="477" stroke="#333" stroke-width="2"/>
<line x1="771.4" y1="19.5" x2="771.4" y2="31.5" stroke="#333" stroke-width="2"/>
<line x1="883.6" y1="489" x2="883.6" y2="477" stroke="#333" stroke-width="2"/>
<line x1="883.6" y1="19.5" x2="883.6" y2="31.5" stroke="#333" stroke-width="2"/>
<line x1="995.8" y1="489" x2="995.8" y2="477" stroke="#333" stroke-width="2"/>
<line x1="995.8" y1="19.5" x2="995.8" y2="31.5" stroke="#333" stroke-width="2"/>
<line x1="1108" y1="489" x2="1108" y2="477" stroke="#333" stroke-width="2"/>
<line x1="1108" y1="19.5" x2="1108" y2="31.5" stroke="#333" stroke-width="2"/>
<line x1="1220.2" y1="489" x2="1220.2" y2="477" stroke="#333" stroke-width="2"/>
<line x1="1220.2" y1="19.5" x2="1220.2" y2="31.5" stroke="#333" stroke-width="2"/>
<line x1="827.5" y1="19.5" x2="827.5" y2="25.5" stroke="#333" stroke-width="2"/>
<line x1="939.7" y1="19.5" x2="939.7" y2="25.5" stroke="#333" stroke-width="2"/>
<line x1="1051.9" y1="19.5" x2="1051.9" y2="25.5" stroke="#333" stroke-width="2"/>
<line x1="1164.1" y1="19.5" x2="1164.1" y2="25.5" stroke="#333" stroke-width="2"/>
<text x="768.9" y="508.5" font-size="22" text-anchor="middle" fill="#2b2b2b" stroke="#2b2b2b" stroke-width="0.45" >center of the</text>
<text x="766.4" y="534.5" font-size="22" text-anchor="middle" fill="#2b2b2b" stroke="#2b2b2b" stroke-width="0.45" >right face</text>
<text x="886.1" y="508.5" font-size="22" text-anchor="middle" fill="#2b2b2b" stroke="#2b2b2b" stroke-width="0.45" >adjacent</text>
<text x="885.1" y="534.5" font-size="22" text-anchor="middle" fill="#2b2b2b" stroke="#2b2b2b" stroke-width="0.45" >the bottom</text>
<text x="996.5" y="508.5" font-size="22" text-anchor="middle" fill="#2b2b2b" stroke="#2b2b2b" stroke-width="0.45" >adjacent</text>
<text x="996.8" y="534.5" font-size="22" text-anchor="middle" fill="#2b2b2b" stroke="#2b2b2b" stroke-width="0.45" >the top</text>
<text x="1108.5" y="508.5" font-size="22" text-anchor="middle" fill="#2b2b2b" stroke="#2b2b2b" stroke-width="0.45" >positive</text>
<text x="1221.7" y="508.5" font-size="22" text-anchor="middle" fill="#2b2b2b" stroke="#2b2b2b" stroke-width="0.45" >negative</text>
<text x="0" y="0" font-size="22" text-anchor="middle" fill="#2b2b2b" stroke="#2b2b2b" stroke-width="0.45" transform="translate(664.2 251) rotate(-90)">Temperature/°C</text>
<text x="686.8" y="61.3" font-size="43" text-anchor="middle" fill="#111" stroke="#111" stroke-width="0.45" >b</text>
<line x1="719" y1="100.8" x2="769" y2="100.8" stroke="#1a1a1a" stroke-width="1.6"/>
<rect x="738.5" y="95.3" width="11" height="11" fill="#000000"/>
<text x="774" y="107.7" font-size="19.5" text-anchor="start" fill="#333" stroke="#333" stroke-width="0.45" >20Ah 0% SOC</text>
<line x1="719" y1="127" x2="769" y2="127" stroke="#1a1a1a" stroke-width="1.6"/>
<circle cx="744" cy="127" r="5.7" fill="#000000"/>
<text x="774" y="133.9" font-size="19.5" text-anchor="start" fill="#333" stroke="#333" stroke-width="0.45" >24Ah 0% SOC</text>
<line x1="891" y1="100.8" x2="941" y2="100.8" stroke="#e02a2a" stroke-width="1.6"/>
<rect x="910.5" y="95.3" width="11" height="11" fill="#ff0000"/>
<text x="946" y="107.7" font-size="19.5" text-anchor="start" fill="#333" stroke="#333" stroke-width="0.45" >20Ah 50% SOC</text>
<line x1="891" y1="127" x2="941" y2="127" stroke="#e02a2a" stroke-width="1.6"/>
<circle cx="916" cy="127" r="5.7" fill="#ff0000"/>
<text x="946" y="133.9" font-size="19.5" text-anchor="start" fill="#333" stroke="#333" stroke-width="0.45" >24Ah 50% SOC</text>
<line x1="1075" y1="100.8" x2="1125" y2="100.8" stroke="#2a2ae0" stroke-width="1.6"/>
<rect x="1094.5" y="95.3" width="11" height="11" fill="#0000ff"/>
<text x="1130" y="107.7" font-size="19.5" text-anchor="start" fill="#333" stroke="#333" stroke-width="0.45" >20Ah 100% SOC</text>
<line x1="1075" y1="127" x2="1125" y2="127" stroke="#2a2ae0" stroke-width="1.6"/>
<circle cx="1100" cy="127" r="5.7" fill="#0000ff"/>
<text x="1130" y="133.9" font-size="19.5" text-anchor="start" fill="#333" stroke="#333" stroke-width="0.45" >24Ah 100% SOC</text>
</svg>
</body></html>
